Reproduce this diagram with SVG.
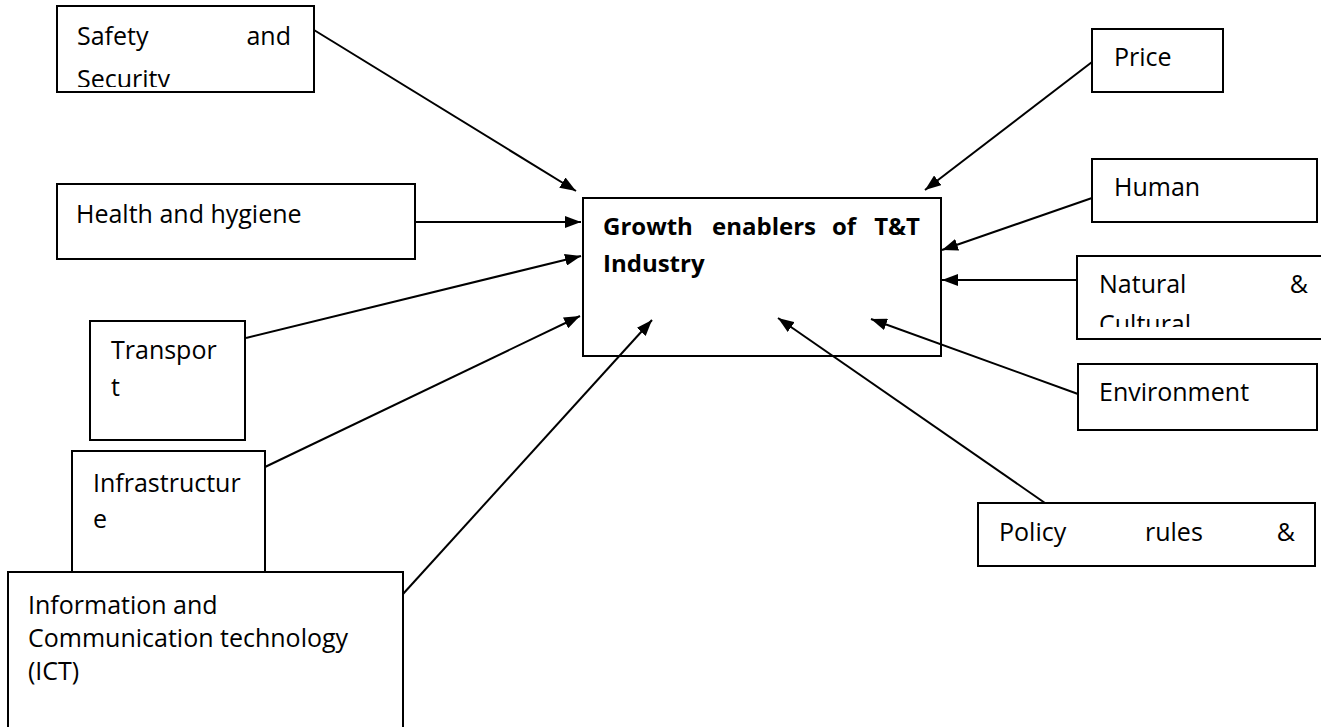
<svg xmlns="http://www.w3.org/2000/svg" width="1321" height="727" viewBox="0 0 1321 727">
<style>
.box{fill:#fff;stroke:#000;stroke-width:2}
.t{font-family:"Open Sans","Noto Sans",sans-serif;font-size:25px;fill:#000}
.b{font-family:"Open Sans","Noto Sans",sans-serif;font-size:24px;font-weight:bold;fill:#000}
.c{stroke:#000;stroke-width:2;fill:none}
</style>
<defs>
<marker id="ah" viewBox="0 0 16 12" refX="16" refY="6" markerWidth="16" markerHeight="12" markerUnits="userSpaceOnUse" orient="auto">
<path d="M0,0 L16,6 L0,12 z" fill="#000"/>
</marker>
<clipPath id="clipSafety"><rect x="57" y="6" width="257" height="81"/></clipPath>
<clipPath id="clipNatural"><rect x="1077" y="256" width="244" height="71"/></clipPath>
</defs>
<g id="safety">
<rect class="box" x="57" y="6" width="257" height="86"/>
<g clip-path="url(#clipSafety)">
<text class="t" x="77" y="45">Safety</text>
<text class="t" x="291" y="45" text-anchor="end">and</text>
<text class="t" x="77" y="88">Security</text>
</g>
</g>
<g id="health">
<rect class="box" x="57" y="184" width="358" height="75"/>
<text class="t" x="76" y="223">Health and hygiene</text>
</g>
<g id="transport">
<rect class="box" x="90" y="321" width="155" height="119"/>
<text class="t" x="111" y="359">Transpor</text>
<text class="t" x="111" y="396">t</text>
</g>
<g id="infrastructure">
<rect class="box" x="72" y="451" width="193" height="121"/>
<text class="t" x="93" y="492">Infrastructur</text>
<text class="t" x="93" y="528">e</text>
</g>
<g id="ict">
<rect class="box" x="8" y="572" width="395" height="170"/>
<text class="t" x="28" y="614">Information and</text>
<text class="t" x="28" y="647">Communication technology</text>
<text class="t" x="28" y="680">(ICT)</text>
</g>
<g id="center">
<rect class="box" x="583" y="198" width="358" height="158"/>
<text class="b" x="603" y="235">Growth</text>
<text class="b" x="712" y="235">enablers</text>
<text class="b" x="832" y="235">of</text>
<text class="b" x="920" y="235" text-anchor="end">T&amp;T</text>
<text class="b" x="603" y="272">Industry</text>
</g>
<g id="price">
<rect class="box" x="1092" y="29" width="131" height="63"/>
<text class="t" x="1114" y="66">Price</text>
</g>
<g id="human">
<rect class="box" x="1092" y="159" width="225" height="63"/>
<text class="t" x="1114" y="196">Human</text>
</g>
<g id="natural">
<rect class="box" x="1077" y="256" width="250" height="83"/>
<g clip-path="url(#clipNatural)">
<text class="t" x="1099" y="293">Natural</text>
<text class="t" x="1308" y="293" text-anchor="end">&amp;</text>
<text class="t" x="1099" y="333">Cultural</text>
</g>
</g>
<g id="environment">
<rect class="box" x="1078" y="364" width="239" height="66"/>
<text class="t" x="1099" y="401">Environment</text>
</g>
<g id="policy">
<rect class="box" x="978" y="503" width="337" height="63"/>
<text class="t" x="999" y="541">Policy</text>
<text class="t" x="1145" y="541">rules</text>
<text class="t" x="1295" y="541" text-anchor="end">&amp;</text>
</g>
<g id="connectors">
<path class="c" marker-end="url(#ah)" d="M314,30 L576,191"/>
<path class="c" marker-end="url(#ah)" d="M415,222 L581,222"/>
<path class="c" marker-end="url(#ah)" d="M246,338 L581,256"/>
<path class="c" marker-end="url(#ah)" d="M265,467 L580,316"/>
<path class="c" marker-end="url(#ah)" d="M403,594 L652,320"/>
<path class="c" marker-end="url(#ah)" d="M1092,62 L925,190"/>
<path class="c" marker-end="url(#ah)" d="M1092,198 L942,250"/>
<path class="c" marker-end="url(#ah)" d="M1077,280 L942,280"/>
<path class="c" marker-end="url(#ah)" d="M1078,394 L871,319"/>
<path class="c" marker-end="url(#ah)" d="M1045,503 L778,318"/>
</g>
</svg>
